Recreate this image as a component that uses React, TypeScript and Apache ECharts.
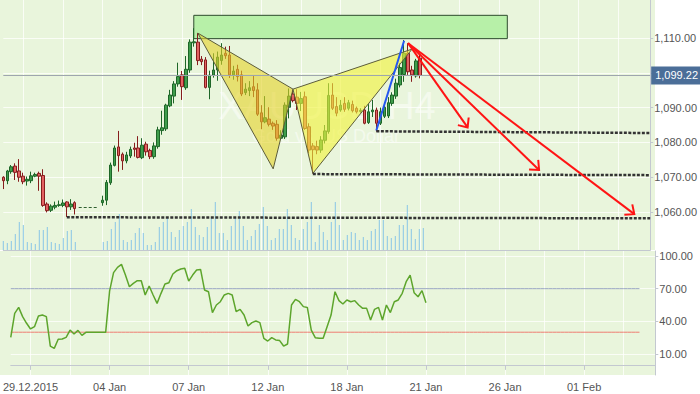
import React, { useEffect, useRef } from "react";
import * as echarts from "echarts";

// ---- axis domain ----
const SLOT_COUNT = 164;
const categories = Array.from({ length: SLOT_COUNT }, (_, i) => `P${i}`);
const tickIndexes = [5, 25, 45, 65, 85, 105, 125, 145];
const tickLabels = ["29.12.2015", "04 Jan", "07 Jan", "12 Jan", "18 Jan", "21 Jan", "26 Jan", "01 Feb"];
const priceTicks = [1060, 1070, 1080, 1090, 1100, 1110];
const priceLabels = [1060, 1070, 1080, 1090, 1110];
const rsiTicks = [10, 40, 70, 100];

// ---- H4 candles [open, close, low, high] ----
const ohlc: (number[] | null)[] = [
  [1070.0, 1069.0, 1066.6, 1070.3],
  [1069.0, 1071.8, 1068.0, 1072.1],
  [1071.6, 1073.0, 1071.0, 1073.5],
  [1073.2, 1071.4, 1069.2, 1074.0],
  [1071.8, 1070.0, 1068.7, 1075.2],
  [1070.3, 1068.7, 1068.0, 1071.3],
  [1068.9, 1069.4, 1067.6, 1070.2],
  [1069.0, 1070.4, 1068.3, 1071.6],
  [1070.3, 1070.8, 1070.0, 1071.3],
  [1071.1, 1070.3, 1066.1, 1071.6],
  [1070.5, 1061.9, 1061.5, 1072.3],
  [1062.3, 1060.4, 1059.9, 1062.8],
  [1060.5, 1061.7, 1060.0, 1062.2],
  [1061.4, 1061.9, 1060.8, 1063.0],
  [1061.9, 1062.1, 1061.5, 1063.3],
  [1061.9, 1062.6, 1061.4, 1063.6],
  [1062.9, 1061.5, 1058.6, 1063.1],
  [1061.5, 1062.3, 1060.6, 1063.7],
  [1062.7, 1061.0, 1059.3, 1063.1],
  null, null, null, null, null, null,
  [1062.7, 1063.4, 1061.8, 1064.7],
  [1063.4, 1068.5, 1062.0, 1069.2],
  [1068.4, 1073.5, 1067.8, 1074.2],
  [1073.4, 1078.4, 1073.1, 1079.1],
  [1078.7, 1076.2, 1071.6, 1083.3],
  [1076.6, 1074.7, 1072.1, 1077.1],
  [1074.7, 1076.4, 1074.0, 1077.3],
  [1076.1, 1078.0, 1075.5, 1078.8],
  [1078.4, 1078.0, 1075.9, 1079.9],
  [1078.4, 1075.7, 1075.4, 1081.8],
  [1075.6, 1079.2, 1075.2, 1081.2],
  [1079.5, 1077.3, 1076.2, 1080.2],
  [1077.7, 1075.9, 1075.2, 1078.2],
  [1075.9, 1079.0, 1075.3, 1080.0],
  [1078.8, 1083.6, 1078.2, 1084.5],
  [1083.4, 1084.2, 1082.2, 1089.1],
  [1083.9, 1090.7, 1083.3, 1091.1],
  [1090.5, 1093.6, 1090.1, 1095.1],
  [1093.3, 1096.8, 1091.2, 1097.6],
  [1096.8, 1098.9, 1096.0, 1102.9],
  [1099.4, 1096.0, 1092.2, 1100.5],
  [1095.7, 1101.0, 1095.1, 1104.8],
  [1100.8, 1108.8, 1100.0, 1109.6],
  [1108.6, 1108.9, 1107.5, 1112.8],
  [1108.8, 1103.5, 1102.2, 1111.4],
  [1103.9, 1103.2, 1102.2, 1104.8],
  [1103.7, 1095.8, 1095.5, 1104.5],
  [1095.8, 1099.3, 1092.4, 1100.6],
  [1099.3, 1100.8, 1098.6, 1105.6],
  [1100.8, 1104.5, 1097.7, 1106.1],
  [1103.5, 1105.1, 1102.3, 1108.5],
  [1105.6, 1104.9, 1104.0, 1107.5],
  [1105.1, 1099.4, 1098.5, 1107.7],
  [1099.4, 1100.5, 1098.0, 1102.0],
  [1101.0, 1098.9, 1097.5, 1102.3],
  [1099.4, 1093.9, 1093.3, 1100.6],
  [1094.3, 1095.3, 1093.6, 1097.0],
  [1094.9, 1095.7, 1093.3, 1097.6],
  [1096.0, 1094.9, 1093.0, 1099.1],
  [1095.1, 1088.1, 1087.6, 1097.0],
  [1088.5, 1085.9, 1083.8, 1090.7],
  [1085.9, 1087.1, 1085.5, 1093.3],
  [1086.7, 1085.2, 1084.6, 1090.1],
  [1085.5, 1084.7, 1083.6, 1086.0],
  [1085.2, 1081.2, 1080.5, 1086.4],
  [1081.2, 1082.1, 1080.7, 1083.5],
  [1081.6, 1090.7, 1081.0, 1091.5],
  [1090.1, 1093.3, 1086.9, 1095.5],
  [1093.9, 1092.0, 1091.5, 1095.1],
  [1093.0, 1091.2, 1089.3, 1095.3],
  [1091.2, 1092.6, 1089.0, 1094.5],
  [1093.1, 1084.0, 1083.6, 1094.6],
  [1084.5, 1077.8, 1076.9, 1085.5],
  [1079.0, 1077.9, 1071.1, 1079.8],
  [1078.8, 1077.8, 1076.6, 1080.5],
  [1077.8, 1080.7, 1077.0, 1081.8],
  [1080.6, 1083.3, 1079.7, 1085.0],
  [1083.1, 1093.5, 1082.5, 1097.0],
  [1093.6, 1089.8, 1089.3, 1097.0],
  [1090.3, 1088.4, 1087.5, 1093.0],
  [1089.3, 1090.7, 1088.8, 1092.2],
  [1091.2, 1089.5, 1088.8, 1093.0],
  [1089.8, 1091.4, 1089.2, 1092.2],
  [1090.9, 1089.1, 1088.6, 1092.0],
  [1089.8, 1088.8, 1088.3, 1090.3],
  [1088.9, 1089.2, 1088.5, 1089.8],
  [1089.3, 1085.5, 1085.2, 1090.5],
  [1085.7, 1088.8, 1085.3, 1091.0],
  [1088.8, 1089.3, 1087.3, 1092.2],
  [1089.3, 1085.5, 1083.1, 1090.0],
  [1085.5, 1088.8, 1085.0, 1090.0],
  [1087.5, 1090.1, 1087.0, 1091.5],
  [1087.6, 1091.4, 1087.0, 1093.0],
  [1091.2, 1093.6, 1090.5, 1094.4],
  [1093.3, 1097.0, 1092.5, 1098.3],
  [1096.5, 1101.5, 1095.8, 1102.8],
  [1099.5, 1105.6, 1097.4, 1109.4],
  [1105.6, 1100.3, 1099.4, 1108.5],
  [1100.8, 1099.4, 1097.4, 1102.0],
  [1099.1, 1103.4, 1098.6, 1104.0],
  [1104.2, 1099.22, 1098.4, 1105.1],
];

const volumes: (number | null)[] = [
  9, 7, 9, 16, 28, 25, 8, 7, 6, 20, 20, 23, 8, 7, 6, 12, 19, 20, 8,
  null, null, null, null, null, null,
  8, 9, 21, 28, 36, 10, 8, 10, 17, 22, 17, 5, 5, 8, 23, 28, 32, 18, 13, 20, 24, 28, 41, 23, 15,
  13, 23, 32, 48, 17, 17, 10, 24, 33, 39, 24, 10, 14, 20, 26, 43, 24, 10, 12, 21, 21, 41, 25, 12, 10,
  21, 28, 48, 8, 25, 18, 10, 28, 48, 25, 10, 15, 18, 17, 10, 13, 10, 19, 21, 30, 30, 14, 12, 14, 25,
  25, 45, 21, 11, 21, 22,
];

const rsi: number[] = [
  25.3, 47.3, 52.8, 44.3, 38.2, 33, 35.1, 44.9, 45.8, 44.3, 17.3, 15.2, 23.5, 23.8, 25.3, 32, 28.4, 31.7, 27.1,
  29.9, 29.9, 29.9, 29.9, 29.9, 29.9,
  68, 84.7, 89.6, 92.3, 82.5, 71.8, 74.9, 77.3, 77.3, 64.2, 72.4, 64.2, 56.5, 65.7, 74.3, 75.5, 83.5, 86.5, 88.1, 88.7,
  77, 82.5, 87.1, 87.7, 68.8, 67.2, 48, 55, 58, 64.2, 65.7, 64.2, 48.9, 51, 45.8, 35.7, 38.8, 40.3, 38.8, 24.4,
  21.9, 25, 22.9, 22.3, 17.3, 19.2, 55, 60.2, 58, 53.5, 52.8, 32, 25, 24.4, 24.4, 35.1, 45.8, 67.2, 59, 55.9,
  59.6, 58, 59, 55, 51.9, 51.9, 41.2, 51, 52.8, 41.2, 55, 48, 58, 59.6, 65.7, 76.4, 82.5, 66.3, 62.6, 68.2, 57.1,
];

const lastPrice = 1099.22;
const rsiUpper = 70;
const rsiLower = 30;
const rsiLevelEnd = 159;

// ---- drawings (slot index, price) ----
const targetZone = [[48, 1116.5], [127, 1109.8]];
const patternTriangles = [
  [[49, 1111.4], [68, 1072.4], [73, 1095.3]],
  [[73, 1095.3], [78, 1071.1], [103, 1106.8]],
];
const blueLeg = [[94, 1083.4], [101, 1109.2]];
const redArrows = [
  [102, 1108.5, 117, 1084.3],
  [102, 1108.5, 135, 1072.1],
  [102, 1108.5, 159, 1059.4],
];
const supportLines = [
  [16, 1058.5, 163, 1058.2],
  [78, 1070.9, 163, 1070.6],
  [94, 1083.2, 163, 1082.7],
];
const holidayGap = [19, 24, 1061.3];

const FONT = "Liberation Sans, Arial, sans-serif";
const GRID_LINE = "rgba(255,255,255,0.75)";
const AXIS_LINE = "#c3c8d0";

function fmtPrice(v: number) {
  const th = Math.floor(v / 1000);
  const rest = (v - th * 1000).toFixed(2).padStart(6, "0");
  return `${th},${rest}`;
}

export default function App() {
  const ref = useRef<HTMLDivElement>(null);
  useEffect(() => {
    if (!ref.current) return;
    const chart = echarts.init(ref.current, undefined, { renderer: "svg" });
    const candleData = [] as any[];
    const volData = [] as any[];
    for (let i = 0; i < SLOT_COUNT; i++) {
      const c = ohlc[i];
      candleData.push(c ? c : ["-", "-", "-", "-"]);
      const v = volumes[i];
      volData.push(v == null ? "-" : v);
    }
    const labelFor = (idx: number) => {
      const p = tickIndexes.indexOf(idx);
      return p >= 0 ? tickLabels[p] : "";
    };
    const splitFn = (i: number) => i % 10 === 5;
    const tickFn = (i: number) => tickIndexes.indexOf(i) >= 0;

    const option: any = {
      animation: false,
      textStyle: { fontFamily: FONT },
      grid: [
        { left: 3.3, top: 0, width: 652, height: 250 },
        { left: 3.3, top: 0, width: 652, height: 250 },
        { left: 3.3, top: 251, width: 652, height: 124 },
      ],
      graphic: [
        { type: "rect", z: -10, silent: true, shape: { x: 0, y: 0, width: 655, height: 250 }, style: { fill: "#e9f5dc" } },
        { type: "rect", z: -10, silent: true, shape: { x: 0, y: 251, width: 655, height: 124 }, style: { fill: "#e9f5dc" } },
        {
          type: "text", z: 1, silent: true, x: 327, y: 106,
          style: { text: "XAUUSD H4", fontSize: 38, fontFamily: FONT, fill: "rgba(255,255,255,0.5)", textAlign: "center", textVerticalAlign: "middle" },
        },
        {
          type: "text", z: 1, silent: true, x: 326, y: 136,
          style: { text: "Gold vs. US Dollar", fontSize: 18, fontFamily: FONT, fill: "rgba(255,255,255,0.5)", textAlign: "center", textVerticalAlign: "middle" },
        },
      ],
      xAxis: [
        {
          gridIndex: 0, type: "category", data: categories, boundaryGap: false,
          axisLine: { show: true, lineStyle: { color: AXIS_LINE } },
          axisTick: { show: false }, axisLabel: { show: false },
          splitLine: { show: true, interval: splitFn, lineStyle: { color: GRID_LINE, width: 1 } },
        },
        {
          gridIndex: 1, type: "category", data: categories, boundaryGap: false, show: false,
        },
        {
          gridIndex: 2, type: "category", data: categories, boundaryGap: false,
          axisLine: { show: true, lineStyle: { color: AXIS_LINE } },
          axisTick: { show: true, interval: tickFn, length: 5, lineStyle: { color: AXIS_LINE } },
          axisLabel: {
            show: true, interval: tickFn, margin: 6, color: "#555", fontSize: 11, fontFamily: FONT,
            formatter: (_v: string, idx: number) => labelFor(idx),
          },
          splitLine: { show: true, interval: splitFn, lineStyle: { color: GRID_LINE, width: 1 } },
        },
      ],
      yAxis: [
        {
          gridIndex: 0, type: "value", position: "right", min: 1049.1, max: 1120.9,
          axisLine: { show: true, lineStyle: { color: AXIS_LINE } },
          axisTick: { show: true, length: 3, customValues: priceTicks, lineStyle: { color: AXIS_LINE } },
          axisLabel: {
            show: true, customValues: priceLabels, margin: 4, color: "#555", fontSize: 11, fontFamily: FONT,
            formatter: (v: number) => fmtPrice(v),
          },
          splitLine: { show: true, customValues: priceTicks, lineStyle: { color: GRID_LINE, width: 1 } },
        },
        { gridIndex: 1, type: "value", min: 0, max: 250, show: false, splitLine: { show: false } },
        {
          gridIndex: 2, type: "value", position: "right", min: -9.29, max: 104.59,
          axisLine: { show: true, lineStyle: { color: AXIS_LINE } },
          axisTick: { show: true, length: 3, customValues: rsiTicks, lineStyle: { color: AXIS_LINE } },
          axisLabel: {
            show: true, customValues: rsiTicks, margin: 4, color: "#555", fontSize: 11, fontFamily: FONT,
            formatter: (v: number) => v.toFixed(2),
          },
          splitLine: { show: true, customValues: rsiTicks, lineStyle: { color: GRID_LINE, width: 1 } },
        },
      ],
      series: [
        {
          type: "bar", xAxisIndex: 1, yAxisIndex: 1, data: volData, barWidth: 1, z: 1, silent: true,
          itemStyle: { color: "#88c6e6" },
        },
        {
          type: "candlestick", xAxisIndex: 0, yAxisIndex: 0, data: candleData, barWidth: 3, z: 2, silent: true,
          itemStyle: {
            color: "#3f9d4c", color0: "#e26262", borderColor: "#1e6628", borderColor0: "#861d1d", borderWidth: 1,
          },
          markArea: {
            silent: true,
            itemStyle: { color: "#b7f0a8", borderColor: "#2e4a2e", borderWidth: 1 },
            data: [[{ coord: targetZone[0] }, { coord: targetZone[1] }]],
          },
          markLine: {
            silent: true, symbol: ["none", "none"], label: { show: false },
            data: [
              {
                yAxis: lastPrice,
                lineStyle: { color: "#9ea6ae", width: 1, type: "solid" },
                label: {
                  show: true, position: "end", distance: 1, formatter: fmtPrice(lastPrice),
                  color: "#fff", backgroundColor: "#4b6e98", padding: [4, 4, 3, 4], fontSize: 11, fontFamily: FONT,
                },
              },
              ...supportLines.map((s) => [
                { coord: [s[0], s[1]], lineStyle: { color: "#333", width: 2.5, type: [3, 1.5] } },
                { coord: [s[2], s[3]], lineStyle: { color: "#333", width: 2.5, type: [3, 1.5] } },
              ]),
              [
                { coord: [holidayGap[0], holidayGap[2]], lineStyle: { color: "#2f5f2f", width: 1, type: [3, 2] } },
                { coord: [holidayGap[1], holidayGap[2]], lineStyle: { color: "#2f5f2f", width: 1, type: [3, 2] } },
              ],
            ],
          },
        },
        {
          type: "custom", xAxisIndex: 0, yAxisIndex: 0, z: 3, silent: true,
          data: patternTriangles.map((t) => t[0]),
          renderItem: (params: any, api: any) => {
            const tri = patternTriangles[params.dataIndex];
            const pts = tri.map((p) => api.coord(p));
            const fills = ["rgba(228,210,40,0.6)", "rgba(240,242,60,0.62)"];
            return {
              type: "polygon",
              shape: { points: pts },
              style: { fill: fills[params.dataIndex], stroke: "#5c5c3a", lineWidth: 1 },
            };
          },
        },
        {
          type: "custom", xAxisIndex: 0, yAxisIndex: 0, z: 4, silent: true,
          data: [blueLeg[0]],
          renderItem: (_params: any, api: any) => {
            const a = api.coord(blueLeg[0]);
            const b = api.coord(blueLeg[1]);
            return {
              type: "line",
              shape: { x1: a[0], y1: a[1], x2: b[0], y2: b[1] },
              style: { stroke: "#2457f0", lineWidth: 2 },
            };
          },
        },
        {
          type: "custom", xAxisIndex: 0, yAxisIndex: 0, z: 5, silent: true,
          data: redArrows.map((a) => [a[0], a[1]]),
          renderItem: (params: any, api: any) => {
            const a = redArrows[params.dataIndex];
            const p0 = api.coord([a[0], a[1]]);
            const p1 = api.coord([a[2], a[3]]);
            const ang = Math.atan2(p1[1] - p0[1], p1[0] - p0[0]);
            const L = 10, sp = 0.72;
            const h1 = [p1[0] - L * Math.cos(ang - sp), p1[1] - L * Math.sin(ang - sp)];
            const h2 = [p1[0] - L * Math.cos(ang + sp), p1[1] - L * Math.sin(ang + sp)];
            return {
              type: "group",
              children: [
                { type: "line", shape: { x1: p0[0], y1: p0[1], x2: p1[0], y2: p1[1] }, style: { stroke: "#ff1414", lineWidth: 2 } },
                { type: "polyline", shape: { points: [h1, p1, h2] }, style: { stroke: "#ff1414", lineWidth: 2, fill: "none" } },
              ],
            };
          },
        },
        {
          type: "line", xAxisIndex: 2, yAxisIndex: 2, z: 2, silent: true, symbol: "none",
          data: categories.map((_, i) => (i <= rsiLevelEnd ? rsiUpper : "-")),
          lineStyle: { color: "#98a6bf", width: 1 },
        },
        {
          type: "line", xAxisIndex: 2, yAxisIndex: 2, z: 2, silent: true, symbol: "none",
          data: categories.map((_, i) => (i <= rsiLevelEnd ? rsiLower : "-")),
          lineStyle: { color: "#ee7d72", width: 1 },
        },
        {
          type: "line", xAxisIndex: 2, yAxisIndex: 2, z: 3, silent: true, symbol: "none",
          data: rsi,
          lineStyle: { color: "#5da52c", width: 1.5 },
        },
      ],
    };
    chart.setOption(option);
    return () => chart.dispose();
  }, []);
  return (
    <div
      ref={ref}
      style={{ position: "fixed", left: 0, top: 0, width: 700, height: 394, background: "#fff" }}
    />
  );
}
